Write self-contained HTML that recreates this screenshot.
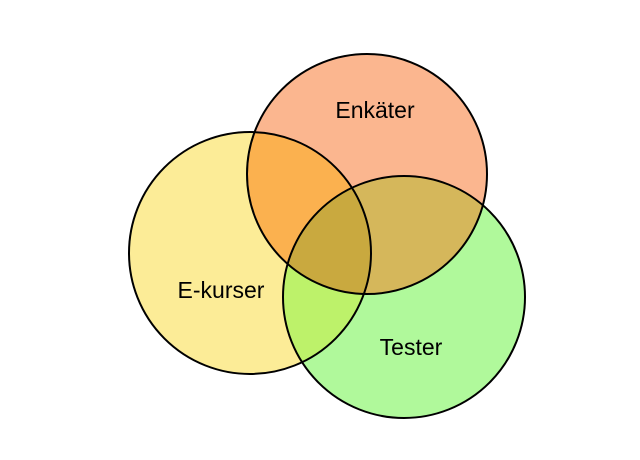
<!DOCTYPE html>
<html><head><meta charset="utf-8"><style>html,body{margin:0;padding:0;background:#fff}svg{display:block}</style></head>
<body>
<svg width="640" height="460" viewBox="0 0 640 460" xmlns="http://www.w3.org/2000/svg">
<defs>
<clipPath id="cE"><circle cx="367" cy="174" r="120"/></clipPath>
<clipPath id="cK"><circle cx="250" cy="253" r="121"/></clipPath>
<clipPath id="cT"><circle cx="404" cy="297" r="121"/></clipPath>
</defs>
<circle cx="250" cy="253" r="121" fill="#fcec97"/>
<circle cx="367" cy="174" r="120" fill="#fbb68f"/>
<circle cx="404" cy="297" r="121" fill="#b0f99b"/>
<g clip-path="url(#cK)"><circle cx="367" cy="174" r="120" fill="#fbb14f"/><circle cx="404" cy="297" r="121" fill="#bdf26a"/></g>
<g clip-path="url(#cE)"><circle cx="404" cy="297" r="121" fill="#d5b75b"/></g>
<g clip-path="url(#cE)"><g clip-path="url(#cK)"><circle cx="404" cy="297" r="121" fill="#c9a93f"/></g></g>
<g fill="none" stroke="#000" stroke-width="2">
<circle cx="250" cy="253" r="121"/>
<circle cx="367" cy="174" r="120"/>
<circle cx="404" cy="297" r="121"/>
</g>
<g font-family="Liberation Sans, sans-serif" font-size="23" fill="#000" text-anchor="middle">
<text x="375" y="118">Enkäter</text>
<text x="221" y="298">E-kurser</text>
<text x="411" y="355">Tester</text>
</g>
</svg>
</body></html>
